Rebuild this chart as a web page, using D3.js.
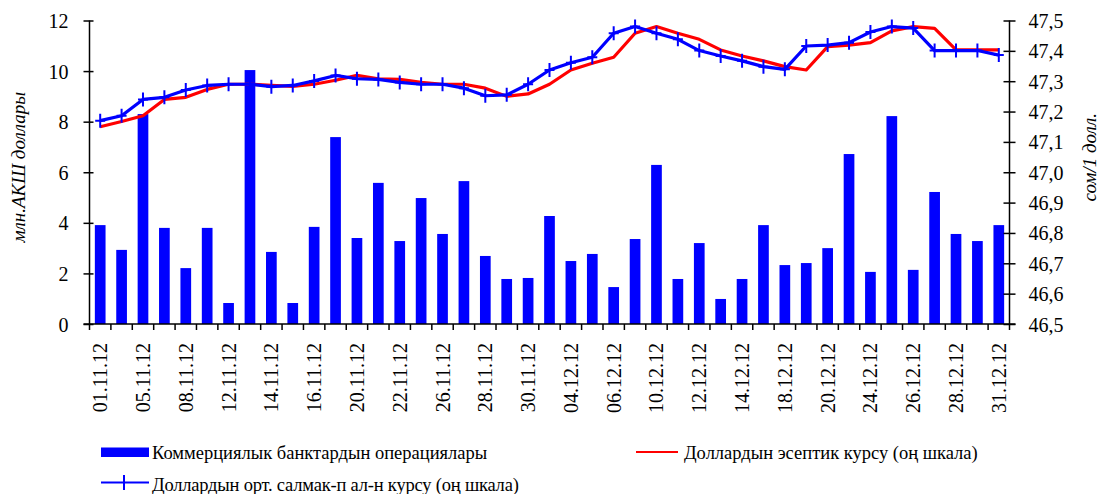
<!DOCTYPE html>
<html>
<head>
<meta charset="utf-8">
<script src="https://cdn.jsdelivr.net/npm/d3@7"></script>
<style>
  body { margin: 0; background: #fff; }
  svg { display: block; }
  svg text { font-family: "Liberation Serif", "Times New Roman", serif; fill: #000; }
  .axis path, .axis line { stroke: #000; stroke-width: 1.5px; }
  .axis text { font-size: 20px; }
  .legend text { font-size: 18.5px; }
</style>
</head>
<body>
<svg id="chart"></svg>
<script>
// trading days, Nov-Dec 2012
var dates = [
  '01.11.12', '02.11.12', '05.11.12', '06.11.12', '08.11.12', '09.11.12',
  '12.11.12', '13.11.12', '14.11.12', '15.11.12', '16.11.12', '19.11.12',
  '20.11.12', '21.11.12', '22.11.12', '23.11.12', '26.11.12', '27.11.12',
  '28.11.12', '29.11.12', '30.11.12', '03.12.12', '04.12.12', '05.12.12',
  '06.12.12', '07.12.12', '10.12.12', '11.12.12', '12.12.12', '13.12.12',
  '14.12.12', '17.12.12', '18.12.12', '19.12.12', '20.12.12', '21.12.12',
  '24.12.12', '25.12.12', '26.12.12', '27.12.12', '28.12.12', '29.12.12',
  '31.12.12'
];

// commercial banks operations, mln USD
var operations = [
  3.91, 2.93, 8.30, 3.80, 2.21, 3.80, 0.83, 10.04, 2.85, 0.83, 3.84, 7.39,
  3.40, 5.58, 3.28, 4.98, 3.56, 5.65, 2.69, 1.78, 1.82, 4.27, 2.49, 2.77,
  1.46, 3.36, 6.29, 1.78, 3.20, 0.99, 1.78, 3.91, 2.33, 2.41, 3.00, 6.72,
  2.06, 8.22, 2.14, 5.22, 3.56, 3.28, 3.91
];

// official rate (right scale)
var officialRate = [
  47.150, 47.167, 47.186, 47.240, 47.247, 47.273, 47.290, 47.290, 47.286,
  47.283, 47.290, 47.303, 47.319, 47.308, 47.306, 47.296, 47.290, 47.290,
  47.277, 47.250, 47.258, 47.290, 47.337, 47.359, 47.379, 47.458, 47.480,
  47.458, 47.438, 47.403, 47.383, 47.367, 47.348, 47.337, 47.414, 47.419,
  47.427, 47.466, 47.480, 47.474, 47.403, 47.403, 47.403
];

// weighted average rate (right scale)
var avgRate = [
  47.170, 47.186, 47.240, 47.247, 47.271, 47.286, 47.290, 47.290, 47.282,
  47.286, 47.301, 47.319, 47.308, 47.306, 47.296, 47.290, 47.290, 47.277,
  47.252, 47.255, 47.290, 47.337, 47.361, 47.379, 47.458, 47.480, 47.458,
  47.438, 47.401, 47.383, 47.367, 47.348, 47.339, 47.416, 47.419, 47.427,
  47.462, 47.480, 47.475, 47.401, 47.401, 47.401, 47.386
];

var leftTicks = [0, 2, 4, 6, 8, 10, 12];
var rightTicks = [46.5, 46.6, 46.7, 46.8, 46.9, 47.0, 47.1, 47.2, 47.3, 47.4, 47.5];

var labels = {
  yLeft: 'млн.АКШ доллары',
  yRight: 'сом/1 долл.',
  bars: 'Коммерциялык банктардын операциялары',
  official: 'Доллардын эсептик курсу (оң шкала)',
  average: 'Доллардын орт. салмак-п ал-н курсу (оң шкала)'
};

var width = 1101, height = 494;
var plot = { left: 89.5, right: 1009.5, top: 20.5, bottom: 324 };

var svg = d3.select('#chart')
  .attr('width', width)
  .attr('height', height);

var x = d3.scaleBand()
  .domain(dates)
  .range([plot.left, plot.right])
  .padding(0);

var yLeft = d3.scaleLinear().domain([0, 12]).range([plot.bottom, plot.top]);
var yRight = d3.scaleLinear().domain([46.5, 47.5]).range([plot.bottom, plot.top]);

var bw = x.bandwidth() * 0.5;
var cx = function(d) { return x(d) + x.bandwidth() / 2; };

/* bars */
svg.append('g')
  .selectAll('rect')
  .data(operations)
  .enter().append('rect')
    .attr('x', function(d, i) { return cx(dates[i]) - bw / 2; })
    .attr('y', function(d) { return yLeft(d); })
    .attr('width', bw)
    .attr('height', function(d) { return plot.bottom - yLeft(d); })
    .attr('fill', '#0000ff');

/* lines */
var line = d3.line()
  .x(function(d, i) { return cx(dates[i]); })
  .y(function(d) { return yRight(d); });

svg.append('path')
  .datum(officialRate)
  .attr('d', line)
  .attr('fill', 'none')
  .attr('stroke', '#ff0000')
  .attr('stroke-width', 3.2)
  .attr('stroke-linejoin', 'round');

svg.append('path')
  .datum(avgRate)
  .attr('d', line)
  .attr('fill', 'none')
  .attr('stroke', '#0000ff')
  .attr('stroke-width', 3.2)
  .attr('stroke-linejoin', 'round');

svg.append('g')
  .selectAll('path')
  .data(avgRate)
  .enter().append('path')
    .attr('d', function(d, i) {
      var px = cx(dates[i]), py = yRight(d);
      return 'M' + (px - 5) + ',' + py + 'H' + (px + 5) +
        'M' + px + ',' + (py - 7) + 'V' + (py + 7);
    })
    .attr('stroke', '#0000ff')
    .attr('stroke-width', 2);

/* left axis */
var gL = svg.append('g')
  .attr('class', 'axis')
  .attr('transform', 'translate(' + plot.left + ',0)')
  .call(d3.axisLeft(yLeft).tickValues(leftTicks).tickSize(5).tickPadding(16));
gL.select('.domain').attr('d', 'M0,' + plot.top + 'V' + plot.bottom);
gL.selectAll('.tick line').attr('x1', -6).attr('x2', 4);
gL.selectAll('.tick text').attr('dy', '0.35em');

/* right axis */
var comma = function(d) { return d3.format('.1f')(d).replace('.', ','); };
var gR = svg.append('g')
  .attr('class', 'axis')
  .attr('transform', 'translate(' + plot.right + ',0)')
  .call(d3.axisRight(yRight).tickValues(rightTicks).tickFormat(comma)
    .tickSize(6).tickPadding(13));
gR.select('.domain').attr('d', 'M0,' + plot.top + 'V' + plot.bottom);
gR.selectAll('.tick line').attr('x1', -6).attr('x2', 6);
gR.selectAll('.tick text').attr('dy', '0.35em');

/* bottom axis: ticks on category boundaries, every second label */
var gX = svg.append('g')
  .attr('class', 'axis')
  .attr('transform', 'translate(0,' + plot.bottom + ')');
gX.append('line')
  .attr('x1', plot.left - 6).attr('x2', plot.right + 6)
  .attr('y1', 0).attr('y2', 0);
gX.selectAll('.xtick')
  .data(d3.range(dates.length + 1))
  .enter().append('line')
    .attr('class', 'xtick')
    .attr('x1', function(i) { return plot.left + i * x.step(); })
    .attr('x2', function(i) { return plot.left + i * x.step(); })
    .attr('y1', 0).attr('y2', 6);
gX.selectAll('.xlabel')
  .data(dates.filter(function(d, i) { return i % 2 === 0; }))
  .enter().append('text')
    .attr('class', 'xlabel')
    .attr('transform', function(d) {
      return 'translate(' + (cx(d) + 7) + ',19) rotate(-90)';
    })
    .attr('text-anchor', 'end')
    .text(function(d) { return d; });

/* axis titles */
svg.append('text')
  .attr('transform', 'translate(25,' + ((plot.top + plot.bottom) / 2 - 5) + ') rotate(-90)')
  .attr('text-anchor', 'middle')
  .style('font-size', '19px')
  .style('font-style', 'italic')
  .text(labels.yLeft);

svg.append('text')
  .attr('transform', 'translate(1096,' + ((plot.top + plot.bottom) / 2 - 15) + ') rotate(-90)')
  .attr('text-anchor', 'middle')
  .style('font-size', '19px')
  .style('font-style', 'italic')
  .text(labels.yRight);

/* legend */
var legend = svg.append('g').attr('class', 'legend');

legend.append('rect')
  .attr('x', 101).attr('y', 447.5)
  .attr('width', 48).attr('height', 9.5)
  .attr('fill', '#0000ff');
legend.append('text')
  .attr('x', 152).attr('y', 458.5)
  .text(labels.bars);

legend.append('line')
  .attr('x1', 636).attr('x2', 678)
  .attr('y1', 452).attr('y2', 452)
  .attr('stroke', '#ff0000').attr('stroke-width', 2);
legend.append('text')
  .attr('x', 684).attr('y', 458.5)
  .text(labels.official);

legend.append('path')
  .attr('d', 'M101,482.5H149M124,475V490')
  .attr('stroke', '#0000ff').attr('stroke-width', 2)
  .attr('fill', 'none');
legend.append('text')
  .attr('x', 152).attr('y', 491)
  .style('letter-spacing', '-0.2px')
  .text(labels.average);
</script>
</body>
</html>
